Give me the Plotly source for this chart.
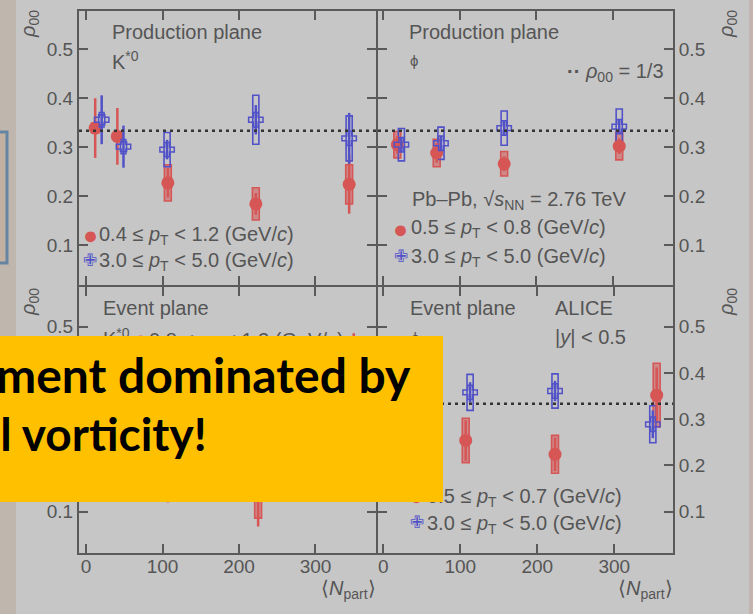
import plotly.graph_objects as go

W, H = 753, 614

# ---------------- data ----------------
# Production plane, K*0
pp_k_N_low = [12, 41, 107, 222, 344]
pp_k_rho_low = [0.339, 0.322, 0.227, 0.184, 0.224]
pp_k_stat_low = [0.061, 0.058, 0.030, 0.022, 0.060]
pp_k_syst_low = [0.010, 0.010, 0.037, 0.033, 0.040]
pp_k_N_high = [20.5, 49, 106, 222, 344]
pp_k_rho_high = [0.356, 0.301, 0.295, 0.356, 0.318]
pp_k_stat_high = [0.050, 0.043, 0.020, 0.030, 0.052]
pp_k_syst_high = [0.010, 0.010, 0.035, 0.050, 0.046]

# Production plane, phi
pp_phi_N_low = [18.7, 70, 158, 308]
pp_phi_rho_low = [0.305, 0.288, 0.266, 0.302]
pp_phi_stat_low = [0.018, 0.020, 0.015, 0.016]
pp_phi_syst_low = [0.027, 0.028, 0.025, 0.028]
pp_phi_N_high = [24, 75.6, 158, 308]
pp_phi_rho_high = [0.305, 0.308, 0.339, 0.342]
pp_phi_stat_high = [0.015, 0.015, 0.015, 0.015]
pp_phi_syst_high = [0.033, 0.033, 0.035, 0.036]

# Event plane, K*0 (mostly hidden by the banner)
ep_k_N_low = [107, 225, 350]
ep_k_rho_low = [0.170, 0.140, 0.400]
ep_k_stat_low = [0.050, 0.072, 0.086]
ep_k_syst_low = [0.040, 0.054, 0.050]

# Event plane, phi
ep_phi_N_low = [107, 223, 355]
ep_phi_rho_low = [0.254, 0.224, 0.352]
ep_phi_stat_low = [0.044, 0.036, 0.060]
ep_phi_syst_low = [0.048, 0.041, 0.069]
ep_phi_N_high = [112.7, 223, 350]
ep_phi_rho_high = [0.358, 0.361, 0.289]
ep_phi_stat_high = [0.022, 0.022, 0.030]
ep_phi_syst_high = [0.039, 0.037, 0.040]

x_ticks = [0, 100, 200, 300]
y_ticks = [0.1, 0.2, 0.3, 0.4, 0.5]
rho_ref = 1 / 3

# ---------------- styles ----------------
RED = "#d65656"
RED_FILL = "rgba(214,86,86,0.55)"
BLUE = "#5252c8"
GREY = "#555555"
AX = "#5a5a5a"
FONT = "Liberation Sans"


def px(x):
    return x / W


def py(y):
    return 1 - y / H


fig = go.Figure()


def add_series(xa, ya, N, rho, stat, syst, kind):
    col = RED if kind == "low" else BLUE
    fill = RED_FILL if kind == "low" else "rgba(0,0,0,0)"
    fig.add_trace(go.Bar(
        x=N, y=[2 * s for s in syst], base=[r - s for r, s in zip(rho, syst)],
        width=9 if kind == "low" else 8,
        marker=dict(color=fill, line=dict(color=col, width=1.6)),
        xaxis=xa, yaxis=ya, showlegend=False, hoverinfo="skip"))
    if kind == "low":
        marker = dict(symbol="circle", size=13, color=col)
    else:
        marker = dict(symbol="cross-open", size=12, color=col, line=dict(width=1.5, color=col))
    fig.add_trace(go.Scatter(
        x=N, y=rho, mode="markers", marker=marker,
        error_y=dict(type="data", array=stat, color=col, thickness=2.5, width=0),
        xaxis=xa, yaxis=ya, showlegend=False))


add_series("x", "y", pp_k_N_low, pp_k_rho_low, pp_k_stat_low, pp_k_syst_low, "low")
add_series("x", "y", pp_k_N_high, pp_k_rho_high, pp_k_stat_high, pp_k_syst_high, "high")
add_series("x2", "y2", pp_phi_N_low, pp_phi_rho_low, pp_phi_stat_low, pp_phi_syst_low, "low")
add_series("x2", "y2", pp_phi_N_high, pp_phi_rho_high, pp_phi_stat_high, pp_phi_syst_high, "high")
add_series("x3", "y3", ep_k_N_low, ep_k_rho_low, ep_k_stat_low, ep_k_syst_low, "low")
add_series("x4", "y4", ep_phi_N_low, ep_phi_rho_low, ep_phi_stat_low, ep_phi_syst_low, "low")
add_series("x4", "y4", ep_phi_N_high, ep_phi_rho_high, ep_phi_stat_high, ep_phi_syst_high, "high")

common = dict(showline=True, linecolor=AX, linewidth=2, mirror="allticks", ticks="inside",
              ticklen=9, tickwidth=2, tickcolor=AX, showgrid=False, zeroline=False,
              tickfont=dict(family=FONT, size=19, color=GREY), fixedrange=True)

xl = [px(79), px(376)]
xr = [px(378), px(673)]
yt = [py(285), py(11)]
yb = [py(553), py(287)]

layout = dict(
    width=W, height=H, margin=dict(l=0, r=0, t=0, b=0),
    paper_bgcolor="#c6c6c6", plot_bgcolor="rgba(0,0,0,0)",
    barmode="overlay", showlegend=False,
    xaxis=dict(domain=xl, range=[-9.15, 379.1], tickvals=x_ticks, showticklabels=False, anchor="y", **common),
    yaxis=dict(domain=yt, range=[0.0182, 0.5783], tickvals=y_ticks, tickformat=".1f", anchor="x", **common),
    xaxis2=dict(domain=xr, range=[-6.5, 378.1], tickvals=x_ticks, showticklabels=False, anchor="y2", **common),
    yaxis2=dict(domain=yt, range=[0.0182, 0.5783], tickvals=y_ticks, tickformat=".1f", anchor="x2", side="right", **common),
    xaxis3=dict(domain=xl, range=[-9.15, 379.1], tickvals=x_ticks, anchor="y3", ticklabelstandoff=-5, **common),
    yaxis3=dict(domain=yb, range=[0.0107, 0.5858], tickvals=y_ticks, tickformat=".1f", anchor="x3", **common),
    xaxis4=dict(domain=xr, range=[-6.9, 376.2], tickvals=x_ticks, anchor="y4", ticklabelstandoff=-5, **common),
    yaxis4=dict(domain=yb, range=[0.0107, 0.5858], tickvals=y_ticks, tickformat=".1f", anchor="x4", side="right", **common),
)
fig.update_layout(**layout)

shapes = [
    # slide background strips
    dict(type="rect", xref="paper", yref="paper", x0=0, x1=px(16), y0=0, y1=1,
         fillcolor="#bfb6ae", line=dict(width=0), layer="below"),
    dict(type="rect", xref="paper", yref="paper", x0=px(-5), x1=px(7), y0=py(263), y1=py(132),
         fillcolor="#c2b1a0", line=dict(color="#6685a3", width=3), layer="below"),
    dict(type="rect", xref="paper", yref="paper", x0=px(749), x1=1, y0=0, y1=1,
         fillcolor="#c4b4b0", line=dict(width=0), layer="below"),
]
for xa, ya in [("x", "y"), ("x2", "y2"), ("x3", "y3"), ("x4", "y4")]:
    shapes.append(dict(type="line", xref=f"{xa} domain", yref=ya, x0=0, x1=1, y0=rho_ref, y1=rho_ref,
                       line=dict(color="#333333", width=2.5, dash="3px,4px"), layer="above"))
fig.update_layout(shapes=shapes)

anns = []


def txt(text, x, yc, size=20, xanchor="left", color=GREY, family=FONT, angle=0):
    anns.append(dict(text=text, x=px(x), y=py(yc), xref="paper", yref="paper", xanchor=xanchor,
                     yanchor="middle", showarrow=False, textangle=angle,
                     font=dict(family=family, size=size, color=color)))


def base(b, size=20):
    return b - 0.35 * size


pt_low_k = "0.4 ≤ <i>p</i><sub>T</sub> < 1.2 (GeV/<i>c</i>)"
pt_high = "3.0 ≤ <i>p</i><sub>T</sub> < 5.0 (GeV/<i>c</i>)"
pt_low_phi = "0.5 ≤ <i>p</i><sub>T</sub> < 0.8 (GeV/<i>c</i>)"
pt_low_k_ep = "0.8 ≤ <i>p</i><sub>T</sub> < 1.2 (GeV/<i>c</i>)"
pt_low_phi_ep = "0.5 ≤ <i>p</i><sub>T</sub> < 0.7 (GeV/<i>c</i>)"
rho_title = "<i>ρ</i><sub>00</sub>"
npart = "⟨<i>N</i><sub>part</sub>⟩"

# axis titles
for xc, yc in [(29, 24), (727, 24), (29, 302), (727, 302)]:
    txt(rho_title, xc, yc, size=20, xanchor="center", angle=-90)
txt(npart, 378, 589, xanchor="right")
txt(npart, 675, 589, xanchor="right")

# top-left
txt("Production plane", 110, base(39.3))
txt("K<sup>*0</sup>", 110, base(63.3) + 4)
txt("●", 90, 235, size=25, xanchor="center", color=RED)
txt(pt_low_k, 97, base(240) + 3)
txt("✙", 90, 260, size=17, xanchor="center", color=BLUE)
txt(pt_high, 97, base(265) + 3)

# top-right
txt("Production plane", 407, base(39.3))
txt("ϕ", 408, 60, size=15)
txt("<b>··</b> <i>ρ</i><sub>00</sub> = 1/3", 666, base(76) + 3, xanchor="right")
txt("Pb–Pb, √<i>s</i><sub>NN</sub> = 2.76 TeV", 410, base(204.7) + 3)
txt("●", 400, 229, size=25, xanchor="center", color=RED)
txt(pt_low_phi, 409, base(233) + 3)
txt("✙", 400.7, 256.7, size=17, xanchor="center", color=BLUE)
txt(pt_high, 409, base(261.7) + 3)

# bottom-left
txt("Event plane", 101, base(315))
txt("K<sup>*0</sup>", 101, base(341) + 3)
txt("●", 140, 339, size=25, xanchor="center", color=RED)
txt(pt_low_k_ep, 147, 341)
txt("✙", 140, 366, size=17, xanchor="center", color=BLUE)
txt(pt_high, 147, 368)

# bottom-right
txt("Event plane", 408, base(315))
txt("ALICE", 553, base(315))
txt("ϕ", 409, 337, size=15)
txt("|<i>y</i>| < 0.5", 553, base(344))
txt("●", 417, 496, size=25, xanchor="center", color=RED)
txt(pt_low_phi_ep, 425, base(501.7) + 3)
txt("✙", 416.7, 522.7, size=17, xanchor="center", color=BLUE)
txt(pt_high, 425, base(528.3) + 3)

# banner
anns.append(dict(text=" ", x=0, y=py(336), xref="paper", yref="paper", xanchor="left", yanchor="top",
                 width=443, height=166, bgcolor="#ffc000", borderpad=0, borderwidth=0, showarrow=False))
anns.append(dict(text="<b>Spin alignment dominated by</b>", x=px(413), y=py(374), xref="paper", yref="paper",
                 xanchor="right", yanchor="middle", showarrow=False,
                 font=dict(family="Lato", size=48, color="#000000")))
anns.append(dict(text="<b>initial vorticity!</b>", x=px(209), y=py(433), xref="paper", yref="paper",
                 xanchor="right", yanchor="middle", showarrow=False,
                 font=dict(family="Lato", size=46, color="#000000")))

fig.update_layout(annotations=anns)
fig.write_html("out.html")
